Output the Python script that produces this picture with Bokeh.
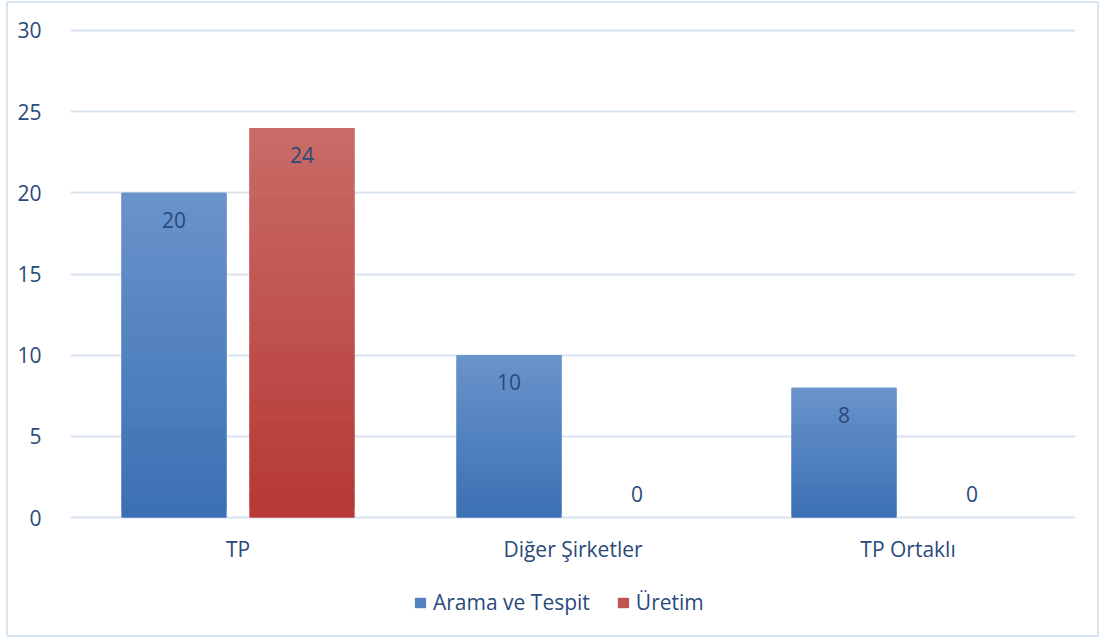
from bokeh.plotting import figure
from bokeh.models import ColumnDataSource, FactorRange, Legend, LegendItem
from bokeh.transform import dodge
from bokeh.core.properties import value
from bokeh.embed import file_html
from bokeh.resources import INLINE

# Data
categories = ["TP", "Diğer Şirketler", "TP Ortaklı"]
series_names = ["Arama ve Tespit", "Üretim"]
arama_ve_tespit = [20, 10, 8]
uretim = [24, 0, 0]
y_ticks = [0, 5, 10, 15, 20, 25, 30]

FONT = "Open Sans"
FONT_SIZE = "21px"
TEXT_COLOR = "#2a4a7b"
GRID_COLOR = "#d9e3f2"

# gradient end colours (bottom, top) for each series
gradients = [((0x3b, 0x70, 0xb4), (0x6a, 0x93, 0xcb)),
             ((0xb6, 0x38, 0x35), (0xc9, 0x6c, 0x67))]
offsets = [-0.191, 0.191]
bar_width = 0.313
N_SLICES = 40


def mix(c0, c1, t):
    return "#%02x%02x%02x" % tuple(round(a + (b - a) * t) for a, b in zip(c0, c1))


# the plot area runs down to the bottom edge so the category labels and the
# legend can sit under the zero line
p = figure(x_range=FactorRange(*categories, range_padding=0),
           y_range=(-7.515, 30.123), width=1093, height=636,
           output_backend="svg", toolbar_location=None,
           min_border_left=62, min_border_right=26,
           min_border_top=25, min_border_bottom=0)
p.margin = (1, 0, 0, 6)
p.styles = {"border": "2px solid #d9e4f3", "border-radius": "2px"}
p.outline_line_color = None
p.background_fill_color = "white"
p.border_fill_color = "white"

# axes
p.yaxis.ticker = y_ticks
p.yaxis.axis_line_color = None
p.yaxis.major_tick_line_color = None
p.yaxis.minor_tick_line_color = None
p.yaxis.major_label_standoff = 23
p.yaxis.major_label_text_font = FONT
p.yaxis.major_label_text_font_size = FONT_SIZE
p.yaxis.major_label_text_color = TEXT_COLOR
p.xaxis.visible = False

p.xgrid.grid_line_color = None
p.ygrid.grid_line_color = GRID_COLOR
p.ygrid.grid_line_width = 2

legend_items = []
for name, values, (c_bot, c_top), off in zip(series_names, [arama_ve_tespit, uretim], gradients, offsets):
    x_pos = dodge("x", off, range=p.x_range)

    # solid base bar in the middle shade, the gradient slices go on top of it
    base = ColumnDataSource(dict(x=categories, top=values))
    p.vbar(x=x_pos, width=bar_width, bottom=0, top="top", source=base,
           fill_color=mix(c_bot, c_top, 0.5), line_color=None)

    xs, bottoms, tops, colors = [], [], [], []
    for cat, v in zip(categories, values):
        if v <= 0:
            continue
        step = v / N_SLICES
        for i in range(N_SLICES):
            xs.append(cat)
            bottoms.append(i * step)
            # slices overlap slightly so no seams show between them
            tops.append(min(v, (i + 1.8) * step))
            colors.append(mix(c_bot, c_top, (i + 0.5) / N_SLICES))
    src = ColumnDataSource(dict(x=xs, bottom=bottoms, top=tops, color=colors))
    r = p.vbar(x=x_pos, width=bar_width,
               bottom="bottom", top="top", source=src,
               fill_color="color", line_color=None)
    legend_items.append(LegendItem(label=name, renderers=[r], index=N_SLICES // 2))

    # value labels: inside the top of the bar, just above the axis for zeros
    lab = ColumnDataSource(dict(
        x=categories, y=values, text=[str(v) for v in values],
        yoff=[27 if v > 0 else -24 for v in values]))
    p.text(x=x_pos, y="y", text="text", y_offset="yoff",
           source=lab, text_align="center", text_baseline="middle",
           text_font=value(FONT), text_font_size=FONT_SIZE, text_color=TEXT_COLOR)

# category labels under the zero line
cat_src = ColumnDataSource(dict(x=categories, y=[0] * len(categories)))
p.text(x="x", y="y", text="x", source=cat_src, y_offset=31,
       text_align="center", text_baseline="middle",
       text_font=value(FONT), text_font_size=FONT_SIZE, text_color=TEXT_COLOR)

legend = Legend(items=legend_items, orientation="horizontal", location=(343, 23),
                glyph_width=14, glyph_height=13, label_standoff=6, spacing=26,
                label_text_font=FONT, label_text_font_size=FONT_SIZE,
                label_text_color=TEXT_COLOR, border_line_color=None,
                background_fill_alpha=0, margin=0, padding=4)
p.add_layout(legend, "center")

open("out.html", "w").write(file_html(p, INLINE))
